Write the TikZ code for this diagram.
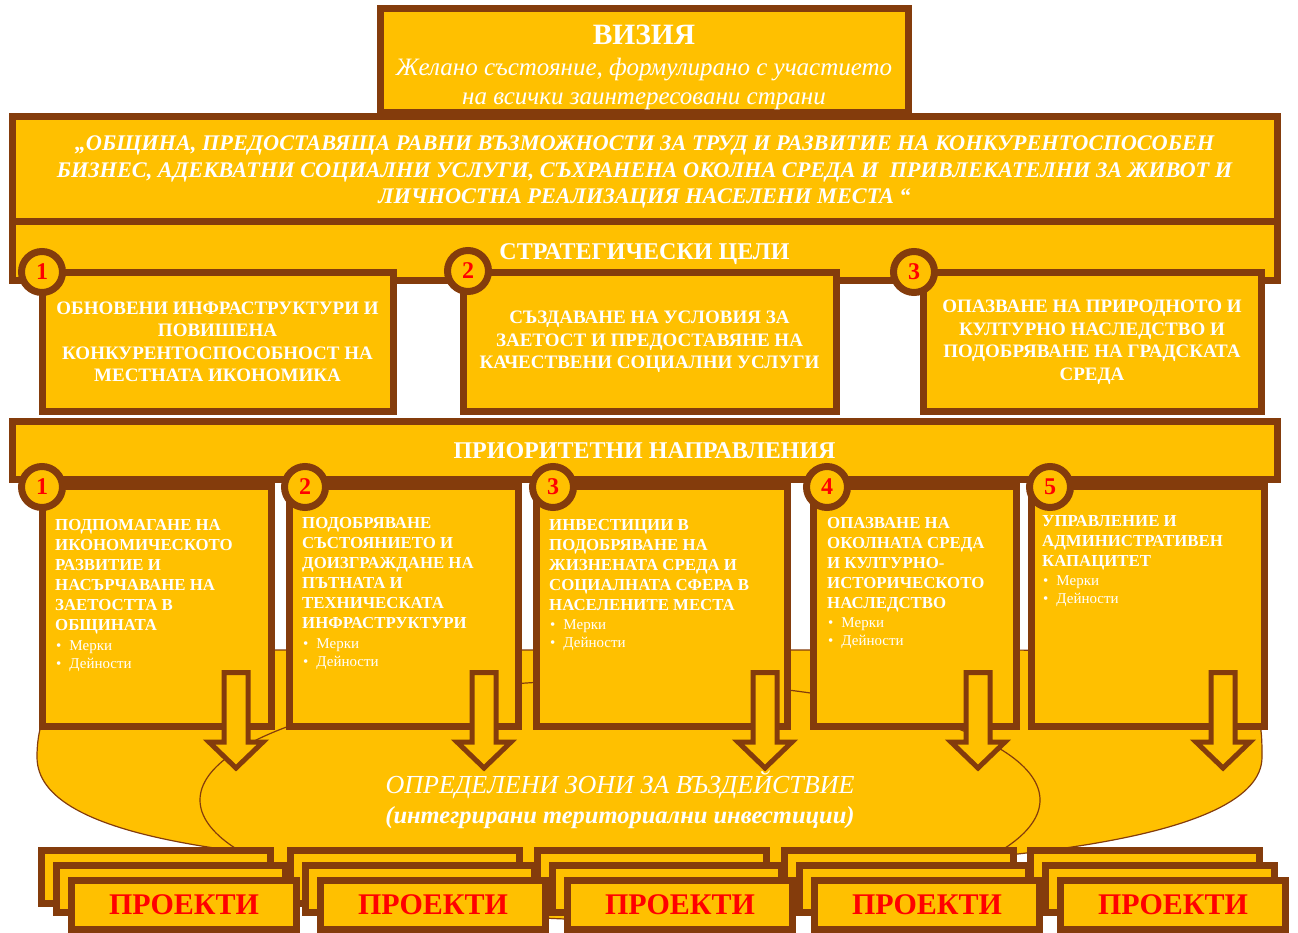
\documentclass[tikz,border=0pt]{standalone}
\usepackage{fontspec}
\setmainfont{Liberation Serif}
\usetikzlibrary{positioning, shapes.geometric}
\definecolor{gold}{HTML}{FFC000}
\definecolor{rust}{HTML}{843C0C}

\begin{document}
\begin{tikzpicture}[x=1pt, y=-1pt,
  frame/.style={draw=rust, fill=gold, line width=7pt, inner sep=0pt},
  badge/.style={circle, draw=rust, fill=gold, line width=7pt, minimum size=41pt, inner sep=0pt, text=red, font=\bfseries\fontsize{24}{24}\selectfont},
  goaltext/.style={text=white, align=center, font=\bfseries\fontsize{19}{22.5}\selectfont},
  bandtext/.style={text=white, text height=16pt, text depth=0pt, font=\bfseries\fontsize{24}{24}\selectfont},
  pritext/.style={anchor=north west, inner sep=0pt, text=white, align=left, font=\bfseries\fontsize{16.8}{20}\selectfont},
  bullets/.style={anchor=north west, inner sep=0pt, text=white, align=left, font=\fontsize{15}{18}\selectfont},
  zone/.style={draw=rust, fill=gold, line width=1.2pt},
  blockarrow/.style={draw=rust, fill=gold, line width=5pt},
  projtext/.style={text=red, font=\bfseries\fontsize{30}{30}\selectfont}]

  \useasboundingbox (0,0) rectangle (1298,933);

  % Zones behind the priorities
  \draw[zone] (37,757) .. controls (37,650) and (150,650) .. (300,650) -- (1000,650)
    .. controls (1262,650) and (1262,700) .. (1262,757)
    .. controls (1262,840) and (1000,870) .. (649,870)
    .. controls (250,870) and (37,840) .. (37,757) -- cycle;
  \node[zone, ellipse, minimum width=840pt, minimum height=240pt, inner sep=0pt, text=white, align=center,
        font=\fontsize{26}{30}\selectfont] (zones) at (620,800)
    {{\itshape ОПРЕДЕЛЕНИ ЗОНИ ЗА ВЪЗДЕЙСТВИЕ}\\
     {\bfseries\itshape\fontsize{24.5}{30}\selectfont (интегрирани териториални инвестиции)}};

  % Vision and mission
  \node[frame, minimum width=1265pt, minimum height=59pt, bandtext] (goalband) at (644.5,251.5) {СТРАТЕГИЧЕСКИ ЦЕЛИ};
  \node[frame, minimum width=1265pt, minimum height=105.5pt] (mission) at (644.5,169) {};
  \node[text=white, align=center, font=\bfseries\itshape\fontsize{22.3}{26.5}\selectfont] (missiontxt) at (644.5,172)
    {„ОБЩИНА, ПРЕДОСТАВЯЩА РАВНИ ВЪЗМОЖНОСТИ ЗА ТРУД И РАЗВИТИЕ НА КОНКУРЕНТОСПОСОБЕН\\
     БИЗНЕС, АДЕКВАТНИ СОЦИАЛНИ УСЛУГИ, СЪХРАНЕНА ОКОЛНА СРЕДА И \ ПРИВЛЕКАТЕЛНИ ЗА ЖИВОТ И\\
     ЛИЧНОСТНА РЕАЛИЗАЦИЯ НАСЕЛЕНИ МЕСТА “};
  \node[frame, minimum width=528pt, minimum height=104pt] (vision) at (644,61) {};
  \node[text=white, font=\bfseries\fontsize{29.5}{29.5}\selectfont] (visiontitle) at (644,35) {ВИЗИЯ};
  \node[text=white, align=center, font=\itshape\fontsize{25}{29}\selectfont] (visionsub) at (644,84)
    {Желано състояние, формулирано с участието\\на всички заинтересовани страни};

  % Strategic goals
  \node[frame, minimum width=351pt, minimum height=138pt, goaltext] (goal1) at (217.5,342)
    {ОБНОВЕНИ ИНФРАСТРУКТУРИ И\\ПОВИШЕНА\\КОНКУРЕНТОСПОСОБНОСТ НА\\МЕСТНАТА ИКОНОМИКА};
  \node[frame, minimum width=373pt, minimum height=138pt, goaltext] (goal2) at (649.5,342)
    {СЪЗДАВАНЕ НА УСЛОВИЯ ЗА\\ЗАЕТОСТ И ПРЕДОСТАВЯНЕ НА\\КАЧЕСТВЕНИ СОЦИАЛНИ УСЛУГИ};
  \node[frame, minimum width=338pt, minimum height=138pt, goaltext] (goal3) at (1092,342)
    {ОПАЗВАНЕ НА ПРИРОДНОТО И\\КУЛТУРНО НАСЛЕДСТВО И\\ПОДОБРЯВАНЕ НА ГРАДСКАТА\\СРЕДА};
  \node[badge] (goalno1) at (42,272) {1};
  \node[badge] (goalno2) at (468,271) {2};
  \node[badge] (goalno3) at (914,272) {3};

  % Priority directions
  \node[frame, minimum width=1265pt, minimum height=58pt, bandtext] (priband) at (644.5,450) {ПРИОРИТЕТНИ НАПРАВЛЕНИЯ};
  \node[frame, minimum width=229pt, minimum height=240pt] (pri1) at (156.5,606) {};
  \node[frame, minimum width=229pt, minimum height=240pt] (pri2) at (403.5,606) {};
  \node[frame, minimum width=251pt, minimum height=240pt] (pri3) at (661.5,606) {};
  \node[frame, minimum width=203pt, minimum height=240pt] (pri4) at (914.5,606) {};
  \node[frame, minimum width=233pt, minimum height=240pt] (pri5) at (1147.5,606) {};
  \node[badge] (prino1) at (42,487) {1};
  \node[badge] (prino2) at (305,487) {2};
  \node[badge] (prino3) at (553,487) {3};
  \node[badge] (prino4) at (827,487) {4};
  \node[badge] (prino5) at (1050,487) {5};
  % Priority texts
  \node[pritext] (pri1txt) at (55,519.5) {ПОДПОМАГАНЕ НА\\ИКОНОМИЧЕСКОТО\\РАЗВИТИЕ И\\НАСЪРЧАВАНЕ НА\\ЗАЕТОСТТА В\\ОБЩИНАТА};
  \node[pritext] (pri2txt) at (302,517.5) {ПОДОБРЯВАНЕ\\СЪСТОЯНИЕТО И\\ДОИЗГРАЖДАНЕ НА\\ПЪТНАТА И\\ТЕХНИЧЕСКАТА\\ИНФРАСТРУКТУРИ};
  \node[pritext] (pri3txt) at (549,519.5) {ИНВЕСТИЦИИ В\\ПОДОБРЯВАНЕ НА\\ЖИЗНЕНАТА СРЕДА И\\СОЦИАЛНАТА СФЕРА В\\НАСЕЛЕНИТЕ МЕСТА};
  \node[pritext] (pri4txt) at (827,517.5) {ОПАЗВАНЕ НА\\ОКОЛНАТА СРЕДА\\И КУЛТУРНО-\\ИСТОРИЧЕСКОТО\\НАСЛЕДСТВО};
  \node[pritext] (pri5txt) at (1042,515.5) {УПРАВЛЕНИЕ И\\АДМИНИСТРАТИВЕН\\КАПАЦИТЕТ};
  \node[bullets] (pri1bul) at (56,640) {•\hspace{8pt}Мерки\\•\hspace{8pt}Дейности};
  \node[bullets] (pri2bul) at (303,638) {•\hspace{8pt}Мерки\\•\hspace{8pt}Дейности};
  \node[bullets] (pri3bul) at (550,619) {•\hspace{8pt}Мерки\\•\hspace{8pt}Дейности};
  \node[bullets] (pri4bul) at (828,617) {•\hspace{8pt}Мерки\\•\hspace{8pt}Дейности};
  \node[bullets] (pri5bul) at (1043,575) {•\hspace{8pt}Мерки\\•\hspace{8pt}Дейности};

  % Block arrows down to the zones
  \draw[blockarrow] (236,672.5) ++(-12,0) -- ++(24,0) -- ++(0,69.5) -- ++(15,0) -- ++(-27,26) -- ++(-27,-26) -- ++(15,0) -- cycle;
  \draw[blockarrow] (484,672.5) ++(-12,0) -- ++(24,0) -- ++(0,69.5) -- ++(15,0) -- ++(-27,26) -- ++(-27,-26) -- ++(15,0) -- cycle;
  \draw[blockarrow] (765,672.5) ++(-12,0) -- ++(24,0) -- ++(0,69.5) -- ++(15,0) -- ++(-27,26) -- ++(-27,-26) -- ++(15,0) -- cycle;
  \draw[blockarrow] (978,672.5) ++(-12,0) -- ++(24,0) -- ++(0,69.5) -- ++(15,0) -- ++(-27,26) -- ++(-27,-26) -- ++(15,0) -- cycle;
  \draw[blockarrow] (1223,672.5) ++(-12,0) -- ++(24,0) -- ++(0,69.5) -- ++(15,0) -- ++(-27,26) -- ++(-27,-26) -- ++(15,0) -- cycle;

  % Project stacks, right to left
  \node[frame, minimum width=229pt, minimum height=52.5pt] (proj5a) at (1145,876.75) {};
  \node[frame, minimum width=229pt, minimum height=46.5pt] (proj5b) at (1160,888.75) {};
  \node[frame, minimum width=225pt, minimum height=49pt, projtext] (proj5) at (1173,905) {ПРОЕКТИ};
  \node[frame, minimum width=229pt, minimum height=52.5pt] (proj4a) at (899,876.75) {};
  \node[frame, minimum width=229pt, minimum height=46.5pt] (proj4b) at (914,888.75) {};
  \node[frame, minimum width=225pt, minimum height=49pt, projtext] (proj4) at (927,905) {ПРОЕКТИ};
  \node[frame, minimum width=229pt, minimum height=52.5pt] (proj3a) at (652,876.75) {};
  \node[frame, minimum width=229pt, minimum height=46.5pt] (proj3b) at (667,888.75) {};
  \node[frame, minimum width=225pt, minimum height=49pt, projtext] (proj3) at (680,905) {ПРОЕКТИ};
  \node[frame, minimum width=229pt, minimum height=52.5pt] (proj2a) at (405,876.75) {};
  \node[frame, minimum width=229pt, minimum height=46.5pt] (proj2b) at (420,888.75) {};
  \node[frame, minimum width=225pt, minimum height=49pt, projtext] (proj2) at (433,905) {ПРОЕКТИ};
  \node[frame, minimum width=229pt, minimum height=52.5pt] (proj1a) at (156,876.75) {};
  \node[frame, minimum width=229pt, minimum height=46.5pt] (proj1b) at (171,888.75) {};
  \node[frame, minimum width=225pt, minimum height=49pt, projtext] (proj1) at (184,905) {ПРОЕКТИ};
\end{tikzpicture}
\end{document}
